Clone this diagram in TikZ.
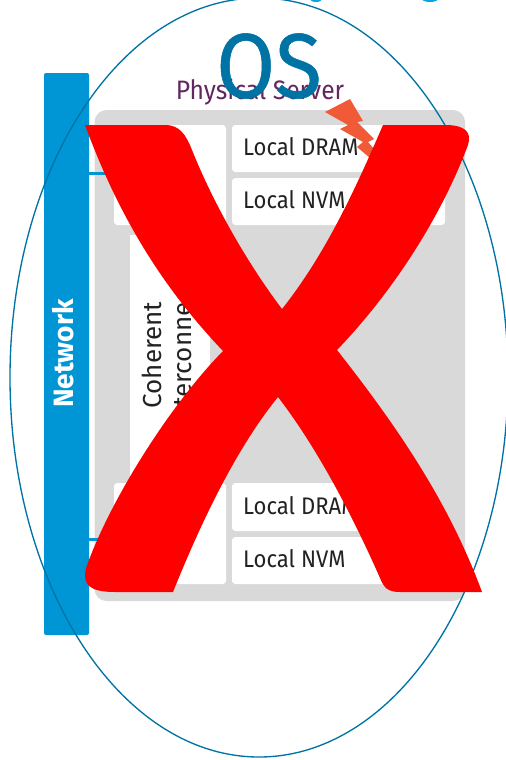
\documentclass[tikz,border=0pt]{standalone}
\usepackage{fontspec}
\setmainfont{Fira Sans}
\newfontfamily\osfont[FakeBold=0.6]{Fira Sans}
\definecolor{barblue}{HTML}{0096D6}
\definecolor{titleblue}{HTML}{0AA5E0}
\definecolor{osblue}{HTML}{0073A5}
\definecolor{panel}{HTML}{D9D9D9}
\definecolor{serverpurple}{HTML}{65265F}
\definecolor{bolt}{HTML}{F05A36}
\definecolor{inktext}{HTML}{222222}
\tikzset{
  whitebox/.style={fill=white,rounded corners=2.5pt},
  boxlabel/.style={inner sep=0pt,anchor=base west,text=inktext,xscale=0.92,font=\fontsize{18}{20}\selectfont},
}
\begin{document}
\begin{tikzpicture}[x=0.75pt,y=-0.75pt]
\useasboundingbox (0,0) rectangle (506,760);
\begin{scope}
\clip (0,0) rectangle (506,760);
\fill[titleblue] (316,-1) ellipse [x radius=6,y radius=3];
\fill[titleblue] (430,-1) ellipse [x radius=8,y radius=3];
\fill[panel,rounded corners=9pt] (94.5,110) rectangle (465,601);
\fill[barblue,rounded corners=1.5pt] (44,73) rectangle (89,635);
\fill[barblue] (89,172) rectangle (115,175);
\fill[barblue] (89,537.5) rectangle (115,541);
\fill[whitebox] (114,125) rectangle (226,225);
\fill[whitebox] (232,125) rectangle (445,172);
\fill[whitebox] (232,178) rectangle (445,225);
\fill[white] (130,235) rectangle (210,484);
\fill[whitebox] (114,483) rectangle (226,584);
\fill[whitebox] (232,483) rectangle (425,531);
\fill[whitebox] (232,537) rectangle (425,584);
\node[boxlabel] (dram1) at (243,155) {Local DRAM};
\node[boxlabel] (nvm1) at (243,208) {Local NVM};
\node[boxlabel] (dram2) at (243,514) {Local DRAM};
\node[boxlabel] (nvm2) at (243,567) {Local NVM};
\node[rotate=90,inner sep=0pt,text=inktext,font=\fontsize{19.5}{22.5}\selectfont,align=center] (coh) at (167,355) {Coherent\\Interconnect};
\node[rotate=90,inner sep=0pt,text=white,font=\fontsize{21}{23}\selectfont\bfseries] (net) at (63.5,353.5) {Network};
\node[inner sep=0pt,text=serverpurple,xscale=0.925,font=\fontsize{20}{22}\selectfont] (srv) at (260,92) {Physical Server};
\fill[bolt] (325,112) -- (350,99) -- (363,121) -- (357,122) -- (374,139) -- (368,142) -- (375,150) -- (370,158) -- (357,147) -- (363,142) -- (340,129) -- (348,125) -- cycle;
\draw[osblue,line width=1pt] (259,377.5) ellipse [x radius=249,y radius=379.5];
\node[inner sep=0pt,text=osblue,xscale=0.97,yscale=1.04,font=\fontsize{66}{70}\selectfont\osfont] (os) at (269,66) {OS};
\fill[red] (85,125) -- (165,125)
  .. controls (180,125) and (186,135) .. (192,150)
  .. controls (212,200) and (245,260) .. (282,309)
  .. controls (325,255) and (355,190) .. (383,125)
  -- (445,125)
  .. controls (465,125) and (472,132) .. (468,145)
  .. controls (440,220) and (390,295) .. (337,350)
  .. controls (400,430) and (450,505) .. (482,592)
  -- (400,592)
  .. controls (388,592) and (384,588) .. (380,578)
  .. controls (350,510) and (315,445) .. (278,397)
  .. controls (235,450) and (200,525) .. (173,592)
  -- (115,592)
  .. controls (90,592) and (82,585) .. (86,568)
  .. controls (110,500) and (170,405) .. (223,351)
  .. controls (165,290) and (120,220) .. (85,125) -- cycle;
\end{scope}
\end{tikzpicture}
\end{document}
